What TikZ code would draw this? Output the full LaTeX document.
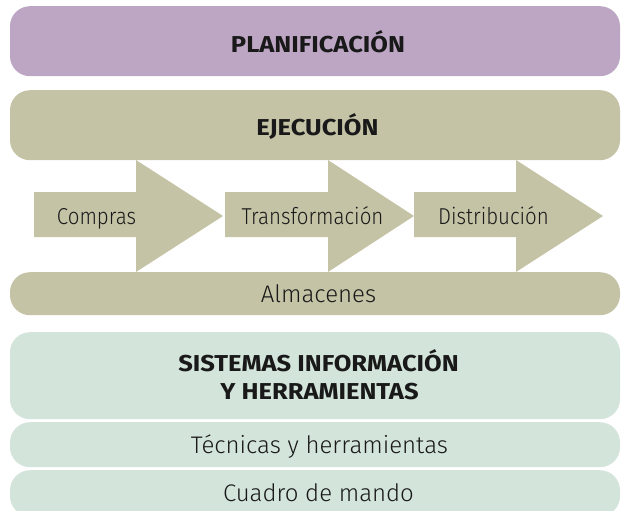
\documentclass[tikz,border=0pt]{standalone}
\usepackage{fontspec}
\setmainfont{Fira Sans}[UprightFont=* Light, BoldFont=* Bold]
\newfontfamily\headfont{Fira Sans}[UprightFont=* Bold, FakeStretch=1.11]
\newfontfamily\narrowfont{Fira Sans}[UprightFont=* Light, FakeStretch=0.89]
\definecolor{purp}{RGB}{188,166,196}
\definecolor{olive}{RGB}{197,195,166}
\definecolor{mint}{RGB}{211,228,219}
\definecolor{ink}{RGB}{25,25,25}
\tikzset{
  bar/.style={rounded corners=20pt, inner sep=0pt, minimum width=610pt, anchor=north},
  txt/.style={text=ink, inner sep=0pt, anchor=base},
  head/.style={txt, font=\headfont\fontsize{23}{27}\selectfont},
  plain/.style={txt, font=\fontsize{24}{28}\selectfont},
  lbl/.style={txt, font=\narrowfont\fontsize{23}{27}\selectfont},
  arrowshape/.style={fill=olive}
}
\begin{document}
\begin{tikzpicture}[x=1pt,y=-1pt]
\useasboundingbox (0,0) rectangle (621,511);
% bars
\node[bar, fill=purp, minimum height=70pt] (plan) at (315,6) {};
\node[bar, fill=olive, minimum height=70pt] (ejec) at (315,90) {};
\node[bar, fill=olive, minimum height=43pt] (alm) at (315,272) {};
\node[bar, fill=mint, minimum height=87pt] (sis) at (315,332) {};
\node[bar, fill=mint, minimum height=45pt] (tec) at (315,422) {};
\node[bar, fill=mint, minimum height=46pt] (cua) at (315,470) {};
% arrows
\fill[arrowshape] (34,192) -- (136,192) -- (136,160) -- (223,216) -- (136,272) -- (136,237) -- (34,237) -- cycle;
\fill[arrowshape] (225,192) -- (328,192) -- (328,160) -- (414,216) -- (328,272) -- (328,237) -- (225,237) -- cycle;
\fill[arrowshape] (414,192) -- (516,192) -- (516,160) -- (603,216) -- (516,272) -- (516,237) -- (414,237) -- cycle;
% texts
\node[head] (plant) at (318,52.3) {PLANIFICACIÓN};
\node[head] (eject) at (317.5,135.7) {EJECUCIÓN};
\node[lbl] (comp) at (96.5,224.5) {Compras};
\node[lbl] (trans) at (312.5,224.5) {Transformación};
\node[lbl] (dist) at (493.5,224.5) {Distribución};
\node[plain] (almt) at (318.5,302.5) {Almacenes};
\node[head] (sist1) at (318.5,371.5) {SISTEMAS INFORMACIÓN};
\node[head] (sist2) at (319.5,399.5) {Y HERRAMIENTAS};
\node[plain] (tect) at (319.5,453.3) {Técnicas y herramientas};
\node[plain] (cuat) at (318.5,501.3) {Cuadro de mando};
\end{tikzpicture}
\end{document}
